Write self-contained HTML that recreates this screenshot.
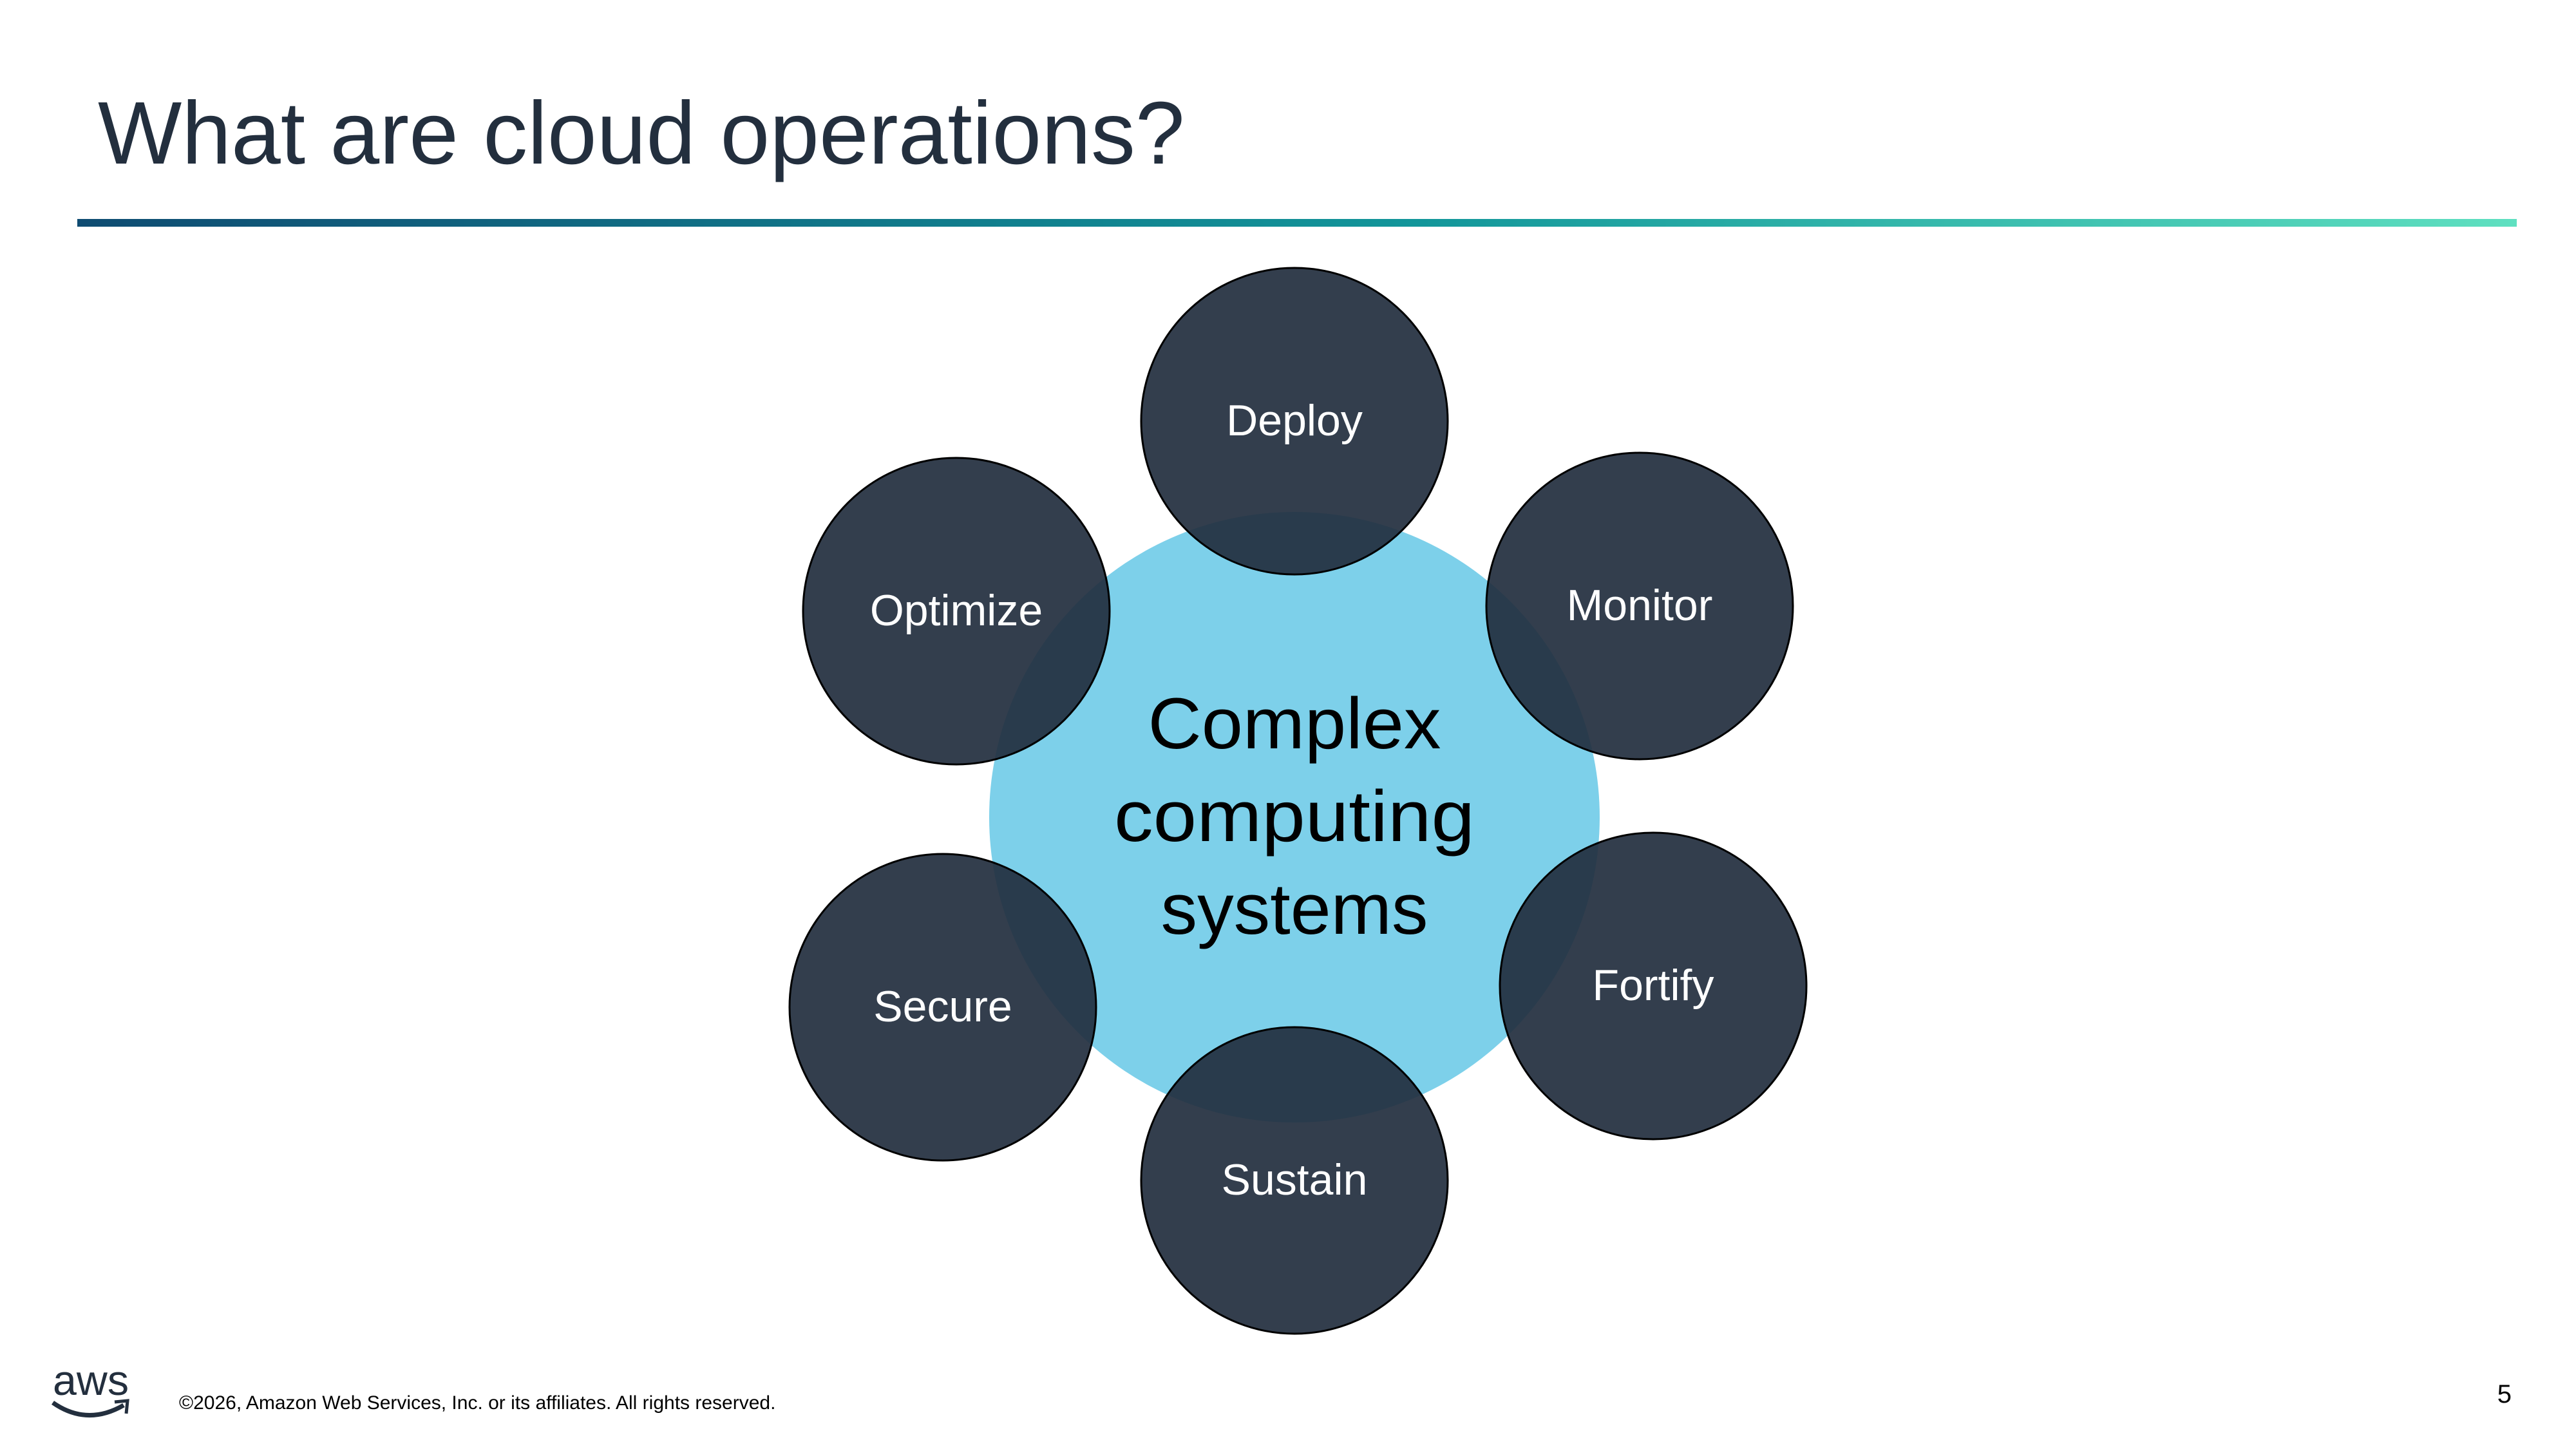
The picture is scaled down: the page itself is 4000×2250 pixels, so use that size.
<!DOCTYPE html>
<html><head><meta charset="utf-8"><style>
html,body{margin:0;padding:0;background:#fff;}
body{width:4000px;height:2250px;position:relative;overflow:hidden;font-family:"Liberation Sans",sans-serif;}
.t{position:absolute;white-space:nowrap;}
</style></head><body>
<div class="t" style="left:152px;top:138px;font-size:138px;color:#232f3e;line-height:1;">What are cloud operations?</div>
<div style="position:absolute;left:120px;top:340px;width:3788px;height:12px;background:linear-gradient(90deg,#0f4c72,#12969a 55%,#5fe0c0);"></div>
<svg width="4000" height="2250" style="position:absolute;left:0;top:0" font-family="Liberation Sans, sans-serif">
<circle cx="2010" cy="1269" r="474" fill="#7dd0ea"/>
<text x="2010" y="1162" font-size="112" text-anchor="middle" fill="#000" textLength="455" lengthAdjust="spacingAndGlyphs">Complex</text>
<text x="2010" y="1306" font-size="112" text-anchor="middle" fill="#000" textLength="560" lengthAdjust="spacingAndGlyphs">computing</text>
<text x="2010" y="1450" font-size="112" text-anchor="middle" fill="#000" textLength="415" lengthAdjust="spacingAndGlyphs">systems</text>
<g fill="rgba(34,46,62,0.92)" stroke="#000" stroke-width="3">
<circle cx="2010" cy="654" r="238"/>
<circle cx="2546" cy="941" r="238"/>
<circle cx="2567" cy="1531" r="238"/>
<circle cx="2010" cy="1833" r="238"/>
<circle cx="1464" cy="1564" r="238"/>
<circle cx="1485" cy="949" r="238"/>
</g>
<g fill="#fff" font-size="68" text-anchor="middle">
<text x="2010" y="676">Deploy</text>
<text x="2546" y="963">Monitor</text>
<text x="2567" y="1553">Fortify</text>
<text x="2010" y="1855">Sustain</text>
<text x="1464" y="1586">Secure</text>
<text x="1485" y="971">Optimize</text>
</g>
<text x="82" y="2166" font-size="66" fill="#232f3e" textLength="118" lengthAdjust="spacingAndGlyphs">aws</text>
<path d="M82 2178 Q135 2215 192 2182" stroke="#232f3e" stroke-width="7" fill="none"/>
<path d="M178 2177 L198 2175 L196 2195" stroke="#232f3e" stroke-width="5" fill="none"/>
<text x="278" y="2188" font-size="30" fill="#000">©2026, Amazon Web Services, Inc. or its affiliates. All rights reserved.</text>
<text x="3900" y="2178" font-size="40" fill="#000" text-anchor="end">5</text>
</svg>
</body></html>
